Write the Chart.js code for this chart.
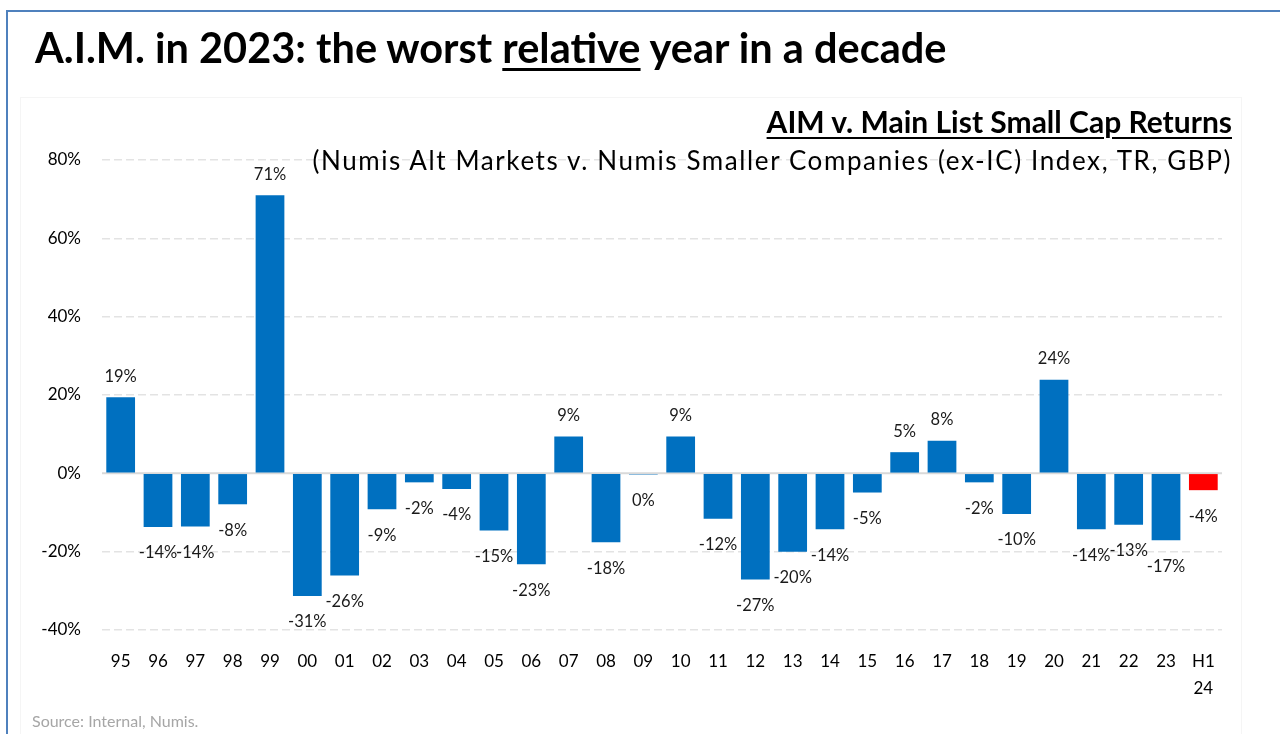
<!DOCTYPE html>
<html lang="en">
<head>
    <meta charset="UTF-8">
    <title>AIM v. Main List Small Cap Returns</title>
    <script src="https://cdn.jsdelivr.net/npm/chart.js"></script>
    <style>
        body { margin: 0; background: #fff; font-family: Lato, "Open Sans", sans-serif; }
        #page { position: relative; width: 1280px; height: 734px; overflow: hidden; }
        #frame { position: absolute; left: 6px; top: 10px; width: 1300px; height: 760px;
                 border-left: 2px solid #4F81BD; border-top: 2px solid #4F81BD; }
        #plotBox { position: absolute; left: 20px; top: 97px; width: 1220px; height: 700px; border: 1px solid #F5F5F5; }
        .chart-container { position: absolute; left: 0; top: 0; width: 1280px; height: 734px; }
        .txt { position: absolute; line-height: 1; color: #000; white-space: nowrap; }
        #title { left: 35px; top: 27px; font-size: 41.5px; font-weight: 700; }
        #title u { text-decoration-thickness: 3px; text-underline-offset: 5px; }
        #sub1 { right: 48px; top: 106px; font-size: 30px; font-weight: 700; text-decoration: underline;
                text-decoration-thickness: 2px; text-underline-offset: 4px; }
        #sub2 { right: 48px; top: 147px; font-size: 26px; letter-spacing: 1.6px; }
        #source { left: 32px; top: 713px; font-size: 16px; color: #A6A6A6; }
    </style>
</head>
<body>
<div id="page">
    <div id="frame"></div>
    <div id="plotBox"></div>
    <div class="chart-container">
        <canvas id="aimChart"></canvas>
    </div>
    <div class="txt" id="title">A.I.M. in 2023: the worst <u>relative</u> year in a decade</div>
    <div class="txt" id="sub1">AIM v. Main List Small Cap Returns</div>
    <div class="txt" id="sub2">(Numis Alt Markets v. Numis Smaller Companies (ex-IC) Index, TR, GBP)</div>
    <div class="txt" id="source">Source: Internal, Numis.</div>
</div>

<script>
    // years (last one is half year 2024)
    const categories = ['95', '96', '97', '98', '99', '00', '01', '02', '03', '04',
        '05', '06', '07', '08', '09', '10', '11', '12', '13', '14',
        '15', '16', '17', '18', '19', '20', '21', '22', '23', ['H1', '24']];

    // AIM minus main list small cap return, %
    const relReturns = [19.4, -13.7, -13.6, -7.9, 71.0, -31.3, -26.1, -9.2, -2.3, -4.0,
        -14.6, -23.2, 9.4, -17.6, -0.3, 9.4, -11.6, -27.1, -20.0, -14.3,
        -4.9, 5.4, 8.3, -2.3, -10.4, 23.9, -14.3, -13.1, -17.1, -4.3];

    const barColors = relReturns.map((v, i) => i === relReturns.length - 1 ? '#FF0000' : '#0070C0');

    const yTicks = [-40, -20, 0, 20, 40, 60, 80];

    // grey zero line under the bars
    const zeroLine = {
        id: 'zeroLine',
        beforeDatasetsDraw(chart) {
            const { ctx, chartArea } = chart;
            const y = chart.scales.y.getPixelForValue(0);
            ctx.save();
            ctx.strokeStyle = '#D9D9D9';
            ctx.lineWidth = 2;
            ctx.beginPath();
            ctx.moveTo(chartArea.left, y);
            ctx.lineTo(chartArea.right, y);
            ctx.stroke();
            ctx.restore();
        }
    };

    // value labels at the outer end of each bar
    const barLabels = {
        id: 'barLabels',
        afterDatasetsDraw(chart) {
            const { ctx } = chart;
            const meta = chart.getDatasetMeta(0);
            ctx.save();
            ctx.font = '16.5px Lato, "Open Sans", sans-serif';
            ctx.fillStyle = '#1a1a1a';
            ctx.textAlign = 'center';
            ctx.textBaseline = 'middle';
            meta.data.forEach((bar, i) => {
                const v = relReturns[i];
                const y = v >= 0 ? bar.y - 21 : bar.y + 26;
                ctx.fillText(Math.round(v) + '%', bar.x, y);
            });
            ctx.restore();
        }
    };

    const ctx = document.getElementById('aimChart').getContext('2d');
    new Chart(ctx, {
        type: 'bar',
        data: {
            labels: categories,
            datasets: [{
                data: relReturns,
                backgroundColor: barColors,
                borderWidth: 0,
                barPercentage: 0.77,
                categoryPercentage: 1.0
            }]
        },
        options: {
            responsive: true,
            maintainAspectRatio: false,
            animation: false,
            layout: {
                padding: { left: 30, right: 58, top: 160, bottom: 34 }
            },
            scales: {
                x: {
                    grid: { display: false, drawTicks: false },
                    border: { display: false },
                    ticks: {
                        padding: 18,
                        color: '#000',
                        font: { family: 'Lato, "Open Sans", sans-serif', size: 17, lineHeight: 1.6 },
                        maxRotation: 0,
                        autoSkip: false
                    },
                    afterFit(scale) { scale.height = 70; }
                },
                y: {
                    min: -40,
                    max: 80,
                    afterBuildTicks(scale) { scale.ticks = yTicks.map(v => ({ value: v })); },
                    grid: {
                        drawTicks: false,
                        color: c => c.tick && c.tick.value === 0 ? 'rgba(0,0,0,0)' : '#E3E3E3',
                        lineWidth: 1.5
                    },
                    border: { display: false, dash: [8, 4] },
                    ticks: {
                        padding: 21,
                        color: '#000',
                        font: { family: 'Lato, "Open Sans", sans-serif', size: 17 },
                        callback: v => v + '%'
                    },
                    afterFit(scale) { scale.width = 72; }
                }
            },
            plugins: {
                legend: { display: false },
                tooltip: { enabled: false }
            }
        },
        plugins: [zeroLine, barLabels]
    });
</script>
</body>
</html>
